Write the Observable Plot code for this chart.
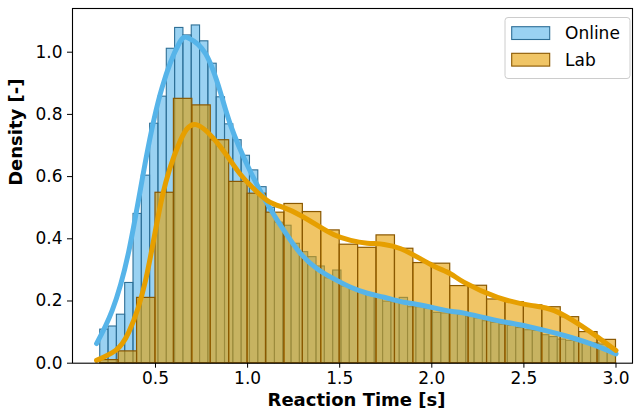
<!DOCTYPE html>
<html><head><meta charset="utf-8">
<script src="https://cdn.jsdelivr.net/npm/d3@7"></script>
<script src="https://cdn.jsdelivr.net/npm/@observablehq/plot@0.6"></script>
<style>
body{margin:0;background:#fff;}
</style></head><body><div id="chart"></div>
<script>
// Histogram bins (density), both from 0.2 s to 3.0 s
const binStart = 0.2, binEnd = 3.0;
const onlineDensity = [0.108,0.118,0.156,0.258,0.480,0.603,0.770,0.857,1.011,1.078,1.054,1.086,1.035,0.963,0.855,0.768,0.717,0.667,0.620,
  0.566,0.500,0.452,0.442,0.384,0.357,0.341,0.311,0.273,0.298,0.247,0.237,0.228,0.223,0.212,0.198,0.196,0.210,0.180,0.180,0.175,0.162,0.160,
  0.160,0.156,0.150,0.144,0.135,0.130,0.124,0.120,0.113,0.106,0.104,0.090,0.084,0.076,0.072,0.070,0.068,0.064,0.060,0.042];
const labDensity = [0.010,0.038,0.210,0.548,0.850,0.829,0.717,0.583,0.545,0.484,0.512,0.486,0.427,0.381,0.371,0.411,0.368,0.322,0.320,
  0.248,0.249,0.205,0.196,0.186,0.180,0.148,0.100,0.075];
// KDE curves
const onlineKdeX = [0.18,0.265,0.355,0.446,0.536,0.627,0.681,0.772,0.853,0.908,1.0,1.107,1.197,1.288,1.379,1.469,1.56,1.65,1.741,1.832,1.922,2.012,2.103,2.176,2.357,2.538,2.719,2.864,3.0];
const onlineKdeY = [0.063,0.17,0.36,0.65,0.887,1.027,1.045,0.995,0.87,0.765,0.635,0.513,0.427,0.352,0.303,0.271,0.244,0.225,0.212,0.198,0.189,0.178,0.167,0.161,0.137,0.116,0.089,0.062,0.03];
const labKdeX = [0.18,0.283,0.355,0.446,0.536,0.627,0.72,0.853,0.944,1.016,1.107,1.197,1.288,1.379,1.469,1.56,1.65,1.741,1.832,1.922,2.012,2.103,2.176,2.357,2.538,2.665,2.81,2.9,3.0];
const labKdeY = [0.009,0.041,0.1,0.266,0.534,0.705,0.767,0.695,0.62,0.571,0.523,0.5,0.475,0.443,0.413,0.395,0.386,0.382,0.368,0.341,0.312,0.287,0.26,0.212,0.186,0.169,0.121,0.084,0.041];
const xTicks = [0.5,1.0,1.5,2.0,2.5,3.0];
const yTicks = [0.0,0.2,0.4,0.6,0.8,1.0];
const seriesNames = ["Online","Lab"];
const lineColors = ["#56B4E9","#E69F00"];
const edgeColors = ["#2e6f96","#8a5800"];

function bins(vals){
  const w = (binEnd - binStart) / vals.length;
  return vals.map((v,i)=>({x1: binStart + i*w, x2: binStart + (i+1)*w, y: v}));
}
const onlineBins = bins(onlineDensity);
const labBins = bins(labDensity);
const onlineKde = onlineKdeX.map((x,i)=>({x, y: onlineKdeY[i]}));
const labKde = labKdeX.map((x,i)=>({x, y: labKdeY[i]}));

const plot = Plot.plot({
  width: 636, height: 416,
  marginLeft: 72, marginRight: 4, marginTop: 8, marginBottom: 53.3,
  style: {fontFamily: "DejaVu Sans", fontSize: "17px", color: "black", background: "white"},
  x: {domain: [0.0494, 3.0896]},
  y: {domain: [0, 1.1405]},
  marks: [
    Plot.rectY(onlineBins, {x1:"x1", x2:"x2", y:"y", fill: lineColors[0], fillOpacity: 0.6, stroke: edgeColors[0], strokeWidth: 1.1, inset: 0}),
    Plot.rectY(labBins, {x1:"x1", x2:"x2", y:"y", fill: lineColors[1], fillOpacity: 0.6, stroke: edgeColors[1], strokeWidth: 1.2, inset: 0}),
    Plot.line(onlineKde, {x:"x", y:"y", stroke: lineColors[0], strokeWidth: 5, curve: "natural"}),
    Plot.line(labKde, {x:"x", y:"y", stroke: lineColors[1], strokeWidth: 5, curve: "natural"}),
    Plot.frame({stroke: "black", strokeWidth: 1.1}),
    Plot.axisX({ticks: xTicks, tickFormat: d3.format(".1f"), tickSize: 5, tickPadding: 4, label: null, fontSize: 17}),
    Plot.axisY({ticks: yTicks, tickFormat: d3.format(".1f"), tickSize: 5, tickPadding: 5, label: null, fontSize: 17}),
    Plot.text(["Reaction Time [s]"], {frameAnchor: "bottom", dy: 43, dx: 4, fontSize: 18, fontWeight: "bold", fill: "black"}),
    Plot.text(["Density [-]"], {frameAnchor: "left", dx: -56, rotate: -90, fontSize: 18, fontWeight: "bold", fill: "black"})
  ]
});
document.getElementById("chart").appendChild(plot);

// Legend inside the axes, upper right
const svg = d3.select(plot);
const lg = svg.append("g").attr("font-family","DejaVu Sans").attr("font-size","17px").attr("text-anchor","start");
lg.append("rect").attr("x",505).attr("y",17.5).attr("width",125).attr("height",61).attr("rx",3)
  .attr("fill","white").attr("fill-opacity",0.8).attr("stroke","#cccccc");
seriesNames.forEach((name,i)=>{
  const yy = 26.7 + i*26.6;
  lg.append("rect").attr("x",511.7).attr("y",yy).attr("width",38).attr("height",12.8)
    .attr("fill",lineColors[i]).attr("fill-opacity",0.6).attr("stroke",edgeColors[i]).attr("stroke-width",1.1);
  lg.append("text").attr("x",565).attr("y",yy+12.6).attr("text-anchor","start").attr("fill","black").text(name);
});
</script></body></html>
